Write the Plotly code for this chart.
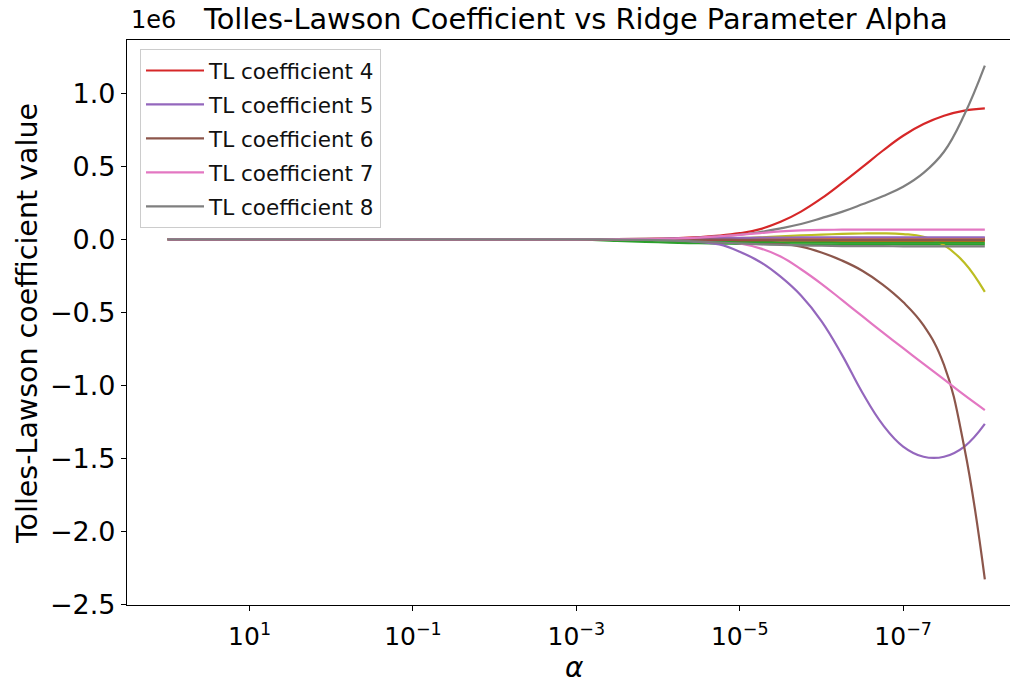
import plotly.graph_objects as go

# log10(alpha) sample positions (alpha runs 1e2 -> 1e-8)
EXPONENTS = [2, 1, 0, -1, -2, -3, -3.5, -4, -4.25, -4.5, -4.75, -5, -5.25, -5.5,
             -5.75, -6, -6.25, -6.5, -6.75, -7, -7.25, -7.5, -7.75, -8]
ALPHA = [10.0 ** e for e in EXPONENTS]

# coefficient values, in units of 1e6
COEF_1 = [0, 0, 0, 0, 0, 0, 0, 0.0005, 0.001, 0.0015, 0.002, 0.0025, 0.003, 0.0035, 0.004, 0.004, 0.004, 0.004, 0.004, 0.004, 0.004, 0.004, 0.004, 0.004]
COEF_2 = [0, 0, 0, 0, 0, 0, -0.0005, -0.002, -0.003, -0.004, -0.005, -0.006, -0.007, -0.008, -0.009, -0.01, -0.01, -0.01, -0.01, -0.01, -0.01, -0.01, -0.01, -0.01]
COEF_3 = [0, 0, 0, 0, 0, -0.003, -0.01, -0.02, -0.024, -0.027, -0.029, -0.031, -0.032, -0.033, -0.034, -0.034, -0.034, -0.034, -0.034, -0.034, -0.034, -0.034, -0.034, -0.034]
COEF_4 = [0, 0, 0, 0, 0, 0.001, 0.002, 0.005, 0.008, 0.015, 0.025, 0.042, 0.07, 0.12, 0.19, 0.28, 0.385, 0.495, 0.607, 0.71, 0.79, 0.847, 0.882, 0.897]
COEF_5 = [0, 0, 0, 0, 0, -0.0005, -0.001, -0.004, -0.008, -0.017, -0.035, -0.085, -0.155, -0.256, -0.385, -0.56, -0.79, -1.05, -1.27, -1.42, -1.49, -1.49, -1.42, -1.265]
COEF_6 = [0, 0, 0, 0, 0, 0, 0, -0.001, -0.002, -0.004, -0.008, -0.013, -0.02, -0.03, -0.05, -0.09, -0.145, -0.215, -0.31, -0.43, -0.59, -0.86, -1.43, -2.33]
COEF_7 = [0, 0, 0, 0, 0, 0, 0, -0.002, -0.004, -0.008, -0.014, -0.028, -0.062, -0.118, -0.205, -0.305, -0.415, -0.527, -0.637, -0.746, -0.853, -0.96, -1.068, -1.17]
COEF_8 = [0, 0, 0, 0, 0, 0, 0.001, 0.004, 0.007, 0.012, 0.02, 0.032, 0.05, 0.075, 0.105, 0.145, 0.188, 0.24, 0.295, 0.36, 0.455, 0.6, 0.855, 1.19]
COEF_9 = [0, 0, 0, 0, 0, 0, 0, 0, 0.001, 0.002, 0.004, 0.008, 0.013, 0.02, 0.027, 0.032, 0.037, 0.04, 0.041, 0.036, 0.018, -0.04, -0.16, -0.36]
COEF_10 = [0, 0, 0, 0, 0, 0, 0, 0.001, 0.002, 0.003, 0.004, 0.005, 0.006, 0.007, 0.008, 0.008, 0.008, 0.008, 0.008, 0.008, 0.008, 0.008, 0.008, 0.008]
COEF_11 = [0, 0, 0, 0, 0, 0, 0, -0.0005, -0.001, -0.001, -0.0015, -0.002, -0.002, -0.002, -0.002, -0.002, -0.002, -0.002, -0.002, -0.002, -0.002, -0.002, -0.002, -0.002]
COEF_12 = [0, 0, 0, 0, 0, 0, 0, 0.001, 0.002, 0.003, 0.004, 0.005, 0.005, 0.006, 0.006, 0.006, 0.006, 0.006, 0.006, 0.006, 0.006, 0.006, 0.006, 0.006]
COEF_13 = [0, 0, 0, 0, 0, -0.001, -0.003, -0.007, -0.01, -0.013, -0.016, -0.018, -0.019, -0.02, -0.021, -0.021, -0.022, -0.022, -0.022, -0.022, -0.022, -0.022, -0.022, -0.022]
COEF_14 = [0, 0, 0, 0, 0, 0, 0, -0.001, -0.002, -0.003, -0.004, -0.005, -0.005, -0.005, -0.005, -0.005, -0.005, -0.005, -0.005, -0.005, -0.005, -0.005, -0.005, -0.005]
COEF_15 = [0, 0, 0, 0, 0, 0, 0.001, 0.002, 0.004, 0.006, 0.008, 0.01, 0.011, 0.012, 0.013, 0.014, 0.014, 0.014, 0.014, 0.014, 0.014, 0.014, 0.014, 0.014]
COEF_16 = [0, 0, 0, 0, 0, 0, 0, -0.001, -0.001, -0.002, -0.002, -0.003, -0.003, -0.004, -0.004, -0.004, -0.004, -0.004, -0.004, -0.004, -0.004, -0.004, -0.004, -0.004]
COEF_17 = [0, 0, 0, 0, 0, 0, 0.001, 0.003, 0.006, 0.012, 0.021, 0.031, 0.043, 0.054, 0.061, 0.065, 0.066, 0.067, 0.067, 0.067, 0.067, 0.067, 0.067, 0.067]
COEF_18 = [0, 0, 0, 0, 0, 0, -0.002, -0.006, -0.01, -0.016, -0.022, -0.028, -0.034, -0.038, -0.042, -0.044, -0.046, -0.047, -0.047, -0.048, -0.048, -0.048, -0.048, -0.048]

COEFS = [COEF_1, COEF_2, COEF_3, COEF_4, COEF_5, COEF_6, COEF_7, COEF_8, COEF_9,
         COEF_10, COEF_11, COEF_12, COEF_13, COEF_14, COEF_15, COEF_16, COEF_17, COEF_18]
LEGEND_COEFS = [4, 5, 6, 7, 8]
SCALE = 1e6

Y_TICKS = [-2.5, -2.0, -1.5, -1.0, -0.5, 0.0, 0.5, 1.0]
Y_TICK_TEXT = ["\u22122.5", "\u22122.0", "\u22121.5", "\u22121.0", "\u22120.5", "0.0", "0.5", "1.0"]
X_TICKS = [1e1, 1e-1, 1e-3, 1e-5, 1e-7]
X_TICK_TEXT = ["10<sup>1</sup>", "10<sup>\u22121</sup>", "10<sup>\u22123</sup>",
               "10<sup>\u22125</sup>", "10<sup>\u22127</sup>"]

TAB10 = ["#1f77b4", "#ff7f0e", "#2ca02c", "#d62728", "#9467bd",
         "#8c564b", "#e377c2", "#7f7f7f", "#bcbd22", "#17becf"]

FONT = "DejaVu Sans"

fig = go.Figure()
for i, vals in enumerate(COEFS, start=1):
    fig.add_trace(go.Scatter(
        x=ALPHA, y=[v * SCALE for v in vals], mode="lines",
        line=dict(color=TAB10[(i - 1) % 10], width=2.2, shape="spline", smoothing=1.2),
        name=f"TL coefficient {i}", showlegend=i in LEGEND_COEFS,
        legendgroup=f"g{i}", hoverinfo="skip",
    ))

W, H = 1010, 685
L, R, T, B = 127, 0, 40, 80
pw, ph = W - L - R, H - T - B

def px(xp):
    return (xp - L) / pw

def py(yp):
    return (H - B - yp) / ph

fig.update_layout(
    width=W, height=H,
    margin=dict(l=L, r=R, t=T, b=B, pad=0),
    paper_bgcolor="white", plot_bgcolor="white",
    font=dict(family=FONT, color="black"),
    showlegend=True,
    legend=dict(
        x=px(140), y=py(49), xanchor="left", yanchor="top",
        bgcolor="rgba(255,255,255,0.8)", bordercolor="#cccccc", borderwidth=1,
        font=dict(family=FONT, size=21.5, color="#111111"),
        tracegroupgap=3, itemwidth=58,
    ),
    xaxis=dict(
        type="log", range=[2.5, -8.308], autorange=False,
        tickmode="array", tickvals=X_TICKS, ticktext=X_TICK_TEXT,
        ticks="outside", ticklen=5, tickwidth=1.1, tickcolor="black",
        ticklabelstandoff=4,
        showline=True, linecolor="black", linewidth=1.1, mirror=True,
        showgrid=False, zeroline=False,
        tickfont=dict(family=FONT, size=25, color="black"),
    ),
    yaxis=dict(
        range=[-2.506e6, 1.366e6], autorange=False,
        tickmode="array", tickvals=[v * SCALE for v in Y_TICKS], ticktext=Y_TICK_TEXT,
        ticks="outside", ticklen=5, tickwidth=1.1, tickcolor="black",
        showline=True, linecolor="black", linewidth=1.1, mirror=False,
        showgrid=False, zeroline=False,
        tickfont=dict(family=FONT, size=27, color="black"),
    ),
    annotations=[
        dict(text="Tolles-Lawson Coefficient vs Ridge Parameter Alpha",
             x=px(575), y=py(19), xref="paper", yref="paper",
             xanchor="center", yanchor="middle", showarrow=False,
             font=dict(family=FONT, size=28.8, color="black")),
        dict(text="1e6", x=px(129), y=py(20), xref="paper", yref="paper",
             xanchor="left", yanchor="middle", showarrow=False,
             font=dict(family=FONT, size=24, color="black")),
        dict(text="Tolles-Lawson coefficient value", x=px(28), y=py(324),
             xref="paper", yref="paper", xanchor="center", yanchor="middle",
             textangle=-90, showarrow=False,
             font=dict(family=FONT, size=28.5, color="black")),
        dict(text="<i>\u03b1</i>", x=px(574.5), y=py(667), xref="paper", yref="paper",
             xanchor="center", yanchor="middle", showarrow=False,
             font=dict(family=FONT, size=28, color="black")),
    ],
)

fig.write_html("out.html", config={"displayModeBar": False},
               post_script="document.body.style.margin='0px';")
